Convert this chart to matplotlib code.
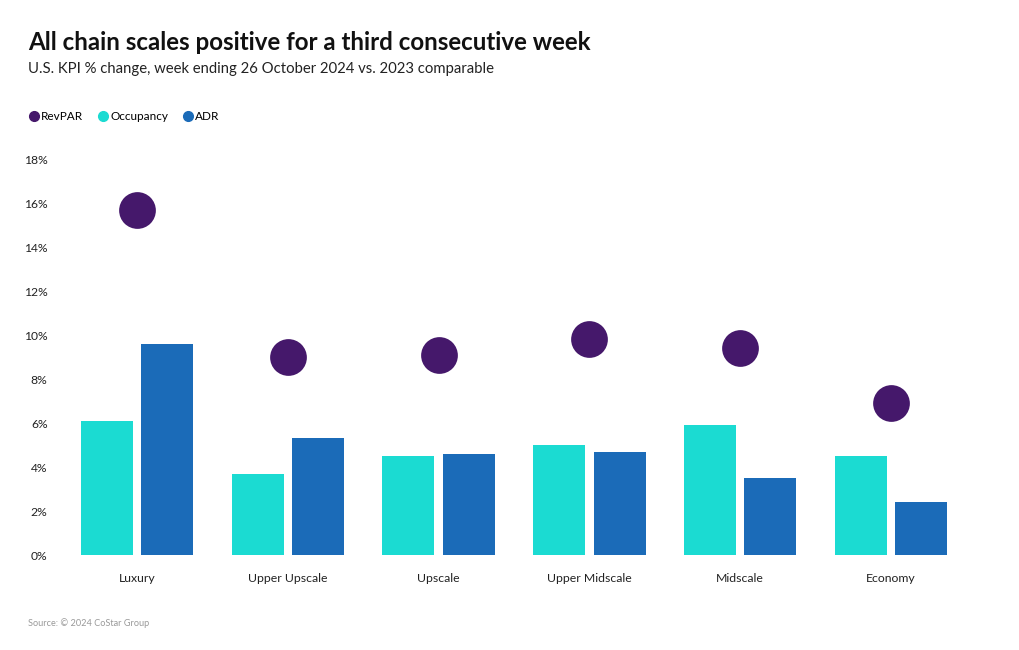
import matplotlib
matplotlib.use("Agg")
import matplotlib.pyplot as plt
from matplotlib.lines import Line2D
import numpy as np

categories = ["Luxury", "Upper Upscale", "Upscale", "Upper Midscale", "Midscale", "Economy"]
revpar = [15.7, 9.0, 9.1, 9.8, 9.4, 6.9]
occupancy = [6.1, 3.7, 4.5, 5.0, 5.9, 4.5]
adr = [9.6, 5.3, 4.6, 4.7, 3.5, 2.4]
yticks = [0, 2, 4, 6, 8, 10, 12, 14, 16, 18]

C_REV = "#45186b"
C_OCC = "#1bdbd2"
C_ADR = "#1b6bb8"

plt.rcParams['font.family'] = ['Lato', 'DejaVu Sans']

fig = plt.figure(figsize=(10.2, 6.5), dpi=100)
W, H = 1020, 650
left, right, top, bottom = 61.5, 966.5, 159, 555
ax = fig.add_axes([left / W, 1 - bottom / H, (right - left) / W, (bottom - top) / H])

x = np.arange(len(categories))
bw = 0.345
off = 0.2
ax.bar(x - off, occupancy, width=bw, color=C_OCC, zorder=2)
ax.bar(x + off, adr, width=bw, color=C_ADR, zorder=2)
ax.scatter(x, revpar, s=700, color=C_REV, zorder=3, linewidths=0)

ax.set_xlim(-0.5, len(categories) - 0.5)
ax.set_ylim(0, 18)
ax.set_yticks(yticks)
ax.set_yticklabels([f"{v}%" for v in yticks], fontsize=8.7, color="#222222")
ax.set_xticks(x)
ax.set_xticklabels(categories, fontsize=8.8, color="#222222")
ax.tick_params(axis='both', length=0)
ax.tick_params(axis='y', pad=10)
ax.tick_params(axis='x', pad=13)
for s in ax.spines.values():
    s.set_visible(False)

fig.text(28 / W, 1 - 43 / H, "All chain scales positive for a third consecutive week",
         fontsize=17.4, fontweight='bold', va='center', ha='left', color='#111111')
fig.text(28 / W, 1 - 69 / H, "U.S. KPI % change, week ending 26 October 2024 vs. 2023 comparable",
         fontsize=10.7, va='center', ha='left', color='#222222')
fig.text(28 / W, 1 - 623 / H, "Source: © 2024 CoStar Group", fontsize=6.6, color='#999999',
         va='center', ha='left')

handles = [Line2D([], [], marker='o', linestyle='', color=c, markersize=7)
           for c in (C_REV, C_OCC, C_ADR)]
fig.legend(handles, ["RevPAR", "Occupancy", "ADR"], loc='center left',
           bbox_to_anchor=(22 / W, 1 - 117 / H), ncol=3, frameon=False, fontsize=8.5,
           handletextpad=0.1, columnspacing=1.2, handlelength=1.0, borderpad=0)

fig.savefig("out.png", dpi=100, facecolor='white')
